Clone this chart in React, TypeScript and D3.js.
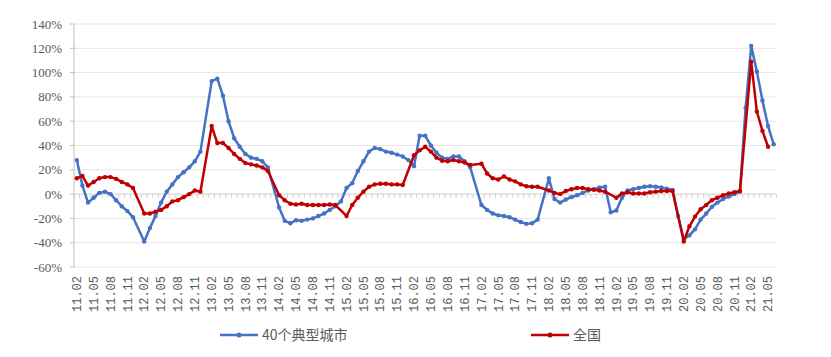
import React from "react";
import * as d3 from "d3";

// 11.02 ... 21.06 monthly categories
const categories: string[] = d3.range(125).map((i) => {
  const k = 1 + i;
  const yy = 11 + Math.floor(k / 12);
  const mm = (k % 12) + 1;
  return `${yy}.${mm < 10 ? "0" + mm : mm}`;
});

const yTicks = [-60, -40, -20, 0, 20, 40, 60, 80, 100, 120, 140];

const seriesNames = ["40个典型城市", "全国"];
const seriesColors = ["#4472C4", "#C00000"];

// 40 typical cities (%), null = no data that month
const cities40: (number | null)[] = [
  28, 7, -7, -3, 1, 2, 0, -5, -10, -14, -19, null,
  -39, -28, -18, -7, 2, 8, 14, 18, 22, 27, 35, null,
  93, 95, 81, 60, 46, 39, 33, 30, 29, 27, 22, null,
  -11, -22, -24, -21.5, -22, -21, -20, -18, -16, -13, -10, -6,
  5, 9, 19, 27, 35, 38, 37, 35, 34, 32.5, 31, 28,
  23, 48, 48, 40, 34, 30, 29, 31, 31, 27, 22, null,
  -9, -13, -16, -17.5, -18, -19, -21, -23, -24.5, -24, -21, null,
  13, -4, -7, -4.5, -2.5, -1, 1, 3, 4, 5.5, 6, -15,
  -13.5, -3, 3, 4, 5, 6, 6.5, 6, 5.5, 4.5, 3.5, -18,
  -37, -34, -29, -21, -16, -10.5, -7, -4, -2, 0, 2, 71,
  122, 101, 77, 56, 41,
];

// National (%)
const national: (number | null)[] = [
  13, 15, 7, 10, 13, 14, 14, 12.5, 10, 8, 5, null,
  -16, -16, -14.5, -13, -10, -6, -5, -2.5, 0, 3, 2, null,
  56, 42, 42, 38, 33, 29, 25.5, 24.5, 23.5, 22, 19, null,
  -1, -5, -8, -8.5, -8, -9, -9, -9, -9, -8.5, -9, null,
  -18, -9, -3, 2, 6, 8, 8.5, 8.5, 8, 8, 7.5, null,
  32, 36, 39, 35, 30, 27.5, 27, 28, 27, 26, 24, null,
  25, 17, 13, 12, 14.5, 12, 10.5, 8, 6.5, 6, 6, null,
  3, 1, 0, 2.5, 4, 5, 5, 4, 3.5, 3, 2, null,
  -3, 0.5, 1.5, 0.5, 0.5, 0.5, 1.5, 2, 2.5, 2.5, 2.5, null,
  -39, -26.5, -18.5, -12.5, -9, -5, -3, -1, 0.5, 1.5, 2.5, null,
  109, 68, 52, 39, null,
];

const W = 831;
const H = 357;
const left = 74;
const right = 776.5;
const top = 24;
const bottom = 267;

export default function App() {
  const x = d3.scaleLinear().domain([-0.5, categories.length - 0.5]).range([left, right]);
  const y = d3.scaleLinear().domain([-60, 140]).range([bottom, top]);
  const line = d3
    .line<[number, number]>()
    .x((d) => x(d[0]))
    .y((d) => y(d[1]));

  const series = [cities40, national].map((arr) =>
    arr
      .map((v, i) => [i, v] as [number, number | null])
      .filter((d) => d[1] !== null) as [number, number][]
  );

  const step = x(1) - x(0);
  const tickLabelIdx = categories.map((_, i) => i).filter((i) => i % 3 === 0);

  return (
    <svg
      width={W}
      height={H}
      style={{ position: "absolute", left: 0, top: 0, background: "#fff" }}
    >
      {/* gridlines */}
      {yTicks.map((t) =>
        t === 0 ? null : (
          <line key={"g" + t} x1={left} x2={right} y1={y(t)} y2={y(t)} stroke="#e6e6e6" strokeWidth={1} />
        )
      )}
      {/* left axis */}
      <line x1={left} x2={left} y1={top} y2={bottom} stroke="#bfbfbf" strokeWidth={1} />
      {yTicks.map((t) => (
        <line key={"t" + t} x1={left - 4} x2={left} y1={y(t)} y2={y(t)} stroke="#bfbfbf" strokeWidth={1} />
      ))}
      {yTicks.map((t) => (
        <text
          key={"yl" + t}
          x={62}
          y={y(t)}
          dy="0.35em"
          textAnchor="end"
          fontFamily="'Liberation Serif', serif"
          fontSize={13}
          fill="#595959"
        >
          {t + "%"}
        </text>
      ))}
      {/* zero axis with category ticks */}
      <line x1={left} x2={right} y1={y(0)} y2={y(0)} stroke="#d0d0d0" strokeWidth={1} />
      {d3.range(categories.length + 1).map((i) => (
        <line
          key={"ct" + i}
          x1={left + i * step}
          x2={left + i * step}
          y1={y(0)}
          y2={y(0) + 4}
          stroke="#d0d0d0"
          strokeWidth={1}
        />
      ))}
      {/* x labels */}
      {tickLabelIdx.map((i) => (
        <text
          key={"xl" + i}
          transform={`translate(${x(i)},${276}) rotate(-90)`}
          dy="0.35em"
          textAnchor="end"
          fontFamily="'Liberation Mono', monospace"
          fontSize={12}
          fill="#595959"
        >
          {categories[i]}
        </text>
      ))}
      {/* lines */}
      {series.map((pts, si) => (
        <g key={"s" + si}>
          <path d={line(pts) || ""} fill="none" stroke={seriesColors[si]} strokeWidth={2.5} strokeLinejoin="round" />
          {pts.map((p) => (
            <circle key={p[0]} cx={x(p[0])} cy={y(p[1])} r={2.2} fill={seriesColors[si]} />
          ))}
        </g>
      ))}
      {/* legend */}
      {[
        { x0: 220, x1: 258, tx: 262 },
        { x0: 531, x1: 569, tx: 573 },
      ].map((l, si) => (
        <g key={"lg" + si}>
          <line x1={l.x0} x2={l.x1} y1={335} y2={335} stroke={seriesColors[si]} strokeWidth={2.5} />
          <circle cx={(l.x0 + l.x1) / 2} cy={335} r={2.5} fill={seriesColors[si]} />
          <text
            x={l.tx}
            y={335}
            dy="0.35em"
            fontFamily="'Noto Sans CJK SC', sans-serif"
            fontSize={14}
            fill="#595959"
          >
            {seriesNames[si]}
          </text>
        </g>
      ))}
    </svg>
  );
}
